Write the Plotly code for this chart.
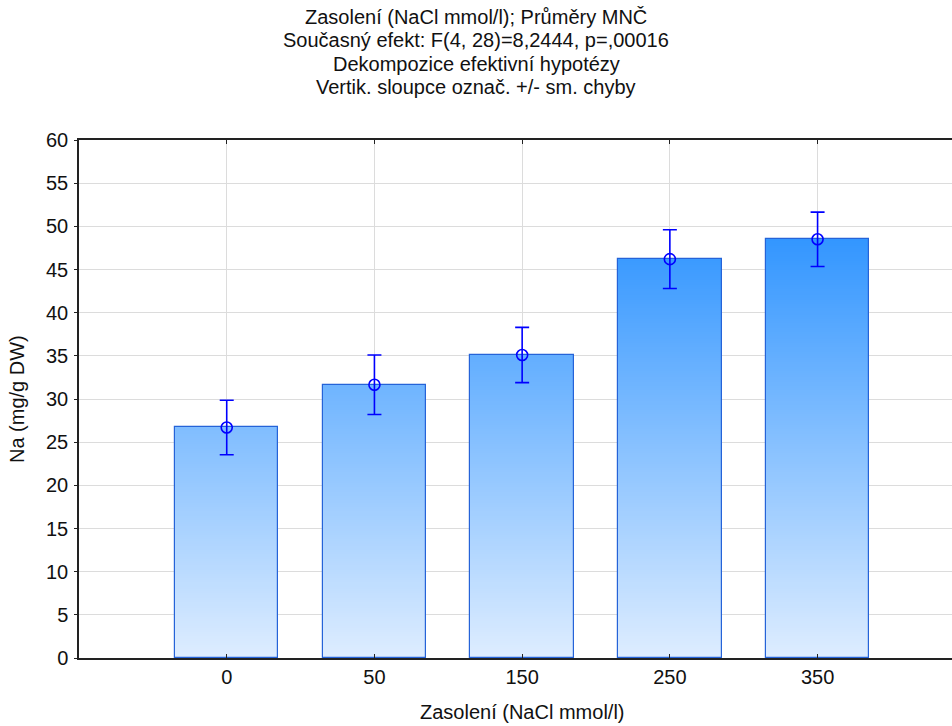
import plotly.graph_objects as go

categories = ["0", "50", "150", "250", "350"]
means = [26.7, 31.65, 35.1, 46.2, 48.5]
sems = [3.15, 3.45, 3.2, 3.4, 3.15]
y_ticks = [0, 5, 10, 15, 20, 25, 30, 35, 40, 45, 50, 55, 60]
title_lines = [
    "Zasolení (NaCl mmol/l); Průměry MNČ",
    "Současný efekt: F(4, 28)=8,2444, p=,00016",
    "Dekompozice efektivní hypotézy",
    "Vertik. sloupce označ. +/- sm. chyby",
]
x_title = "Zasolení (NaCl mmol/l)"
y_title = "Na (mg/g DW)"

FONT = "Liberation Sans, Arial, sans-serif"
FS = 20
xpos = list(range(len(categories)))
BAR_W = 0.70


def grad_color(y):
    f = min(max(y / 48.5, 0), 1.05)
    r = 222 - 171 * f
    g = 237 - 87 * f
    return f"rgb({r:.0f},{g:.0f},255)"


# gradient fill: stacked thin slices built from the mean values
step = 0.25
sx, sbase, sh, scol = [], [], [], []
for xi, m in zip(xpos, means):
    lo = 0.0
    while lo < m - 1e-9:
        hi = min(lo + step, m)
        sx.append(xi)
        sbase.append(lo)
        sh.append(min(hi - lo + 0.06, m - lo))
        scol.append(grad_color((lo + hi) / 2))
        lo = hi

fig = go.Figure()
fig.add_trace(go.Bar(
    x=sx, y=sh, base=sbase, width=BAR_W,
    marker=dict(color=scol, line=dict(width=0)),
    hoverinfo="skip", showlegend=False,
))
fig.add_trace(go.Bar(
    x=xpos, y=means, width=BAR_W,
    marker=dict(color="rgba(0,0,0,0)", line=dict(color="#2563d8", width=1.2)),
    showlegend=False,
))
fig.add_trace(go.Scatter(
    x=xpos, y=means, mode="markers",
    marker=dict(symbol="circle-open", size=11, color="#0000ff", line=dict(width=1.6)),
    error_y=dict(type="data", array=sems, visible=True, color="#0000ff",
                 thickness=1.6, width=7),
    showlegend=False,
))

annotations = []
for i, line in enumerate(title_lines):
    ypix = 17 + i * 23.3
    annotations.append(dict(
        text=line, xref="paper", yref="paper",
        x=(476 - 79) / 873, y=(658 - ypix) / 518,
        xanchor="center", yanchor="middle", showarrow=False,
        font=dict(family=FONT, size=FS, color="#111111"),
    ))
annotations.append(dict(
    text=x_title, xref="x", yref="paper", x=2, y=(658 - 712) / 518,
    xanchor="center", yanchor="middle", showarrow=False,
    font=dict(family=FONT, size=FS, color="#111111"),
))
annotations.append(dict(
    text=y_title, xref="paper", yref="paper", x=(17 - 79) / 873, y=0.5,
    xanchor="center", yanchor="middle", showarrow=False, textangle=-90,
    font=dict(family=FONT, size=FS, color="#111111"),
))

fig.update_layout(
    width=952, height=726,
    margin=dict(l=79, r=0, t=140, b=68),
    paper_bgcolor="white", plot_bgcolor="white",
    barmode="overlay", bargap=0,
    font=dict(family=FONT, size=FS, color="#111111"),
    annotations=annotations,
    xaxis=dict(
        range=[-1, 4.91], tickvals=xpos, ticktext=categories,
        showgrid=True, gridcolor="#dcdcdc", gridwidth=1,
        showline=True, linecolor="#222222", linewidth=1.5,
        mirror="ticks", ticks="inside", ticklen=4, tickcolor="#222222",
        zeroline=False, fixedrange=True,
        tickfont=dict(family=FONT, size=FS, color="#111111"),
    ),
    yaxis=dict(
        range=[0, 60], tickvals=y_ticks,
        showgrid=True, gridcolor="#dcdcdc", gridwidth=1,
        showline=True, linecolor="#222222", linewidth=1.5,
        ticks="outside", ticklen=3, tickcolor="#222222",
        ticklabelstandoff=2,
        zeroline=False,
        tickfont=dict(family=FONT, size=FS, color="#111111"),
    ),
)

fig.write_html("out.html")
